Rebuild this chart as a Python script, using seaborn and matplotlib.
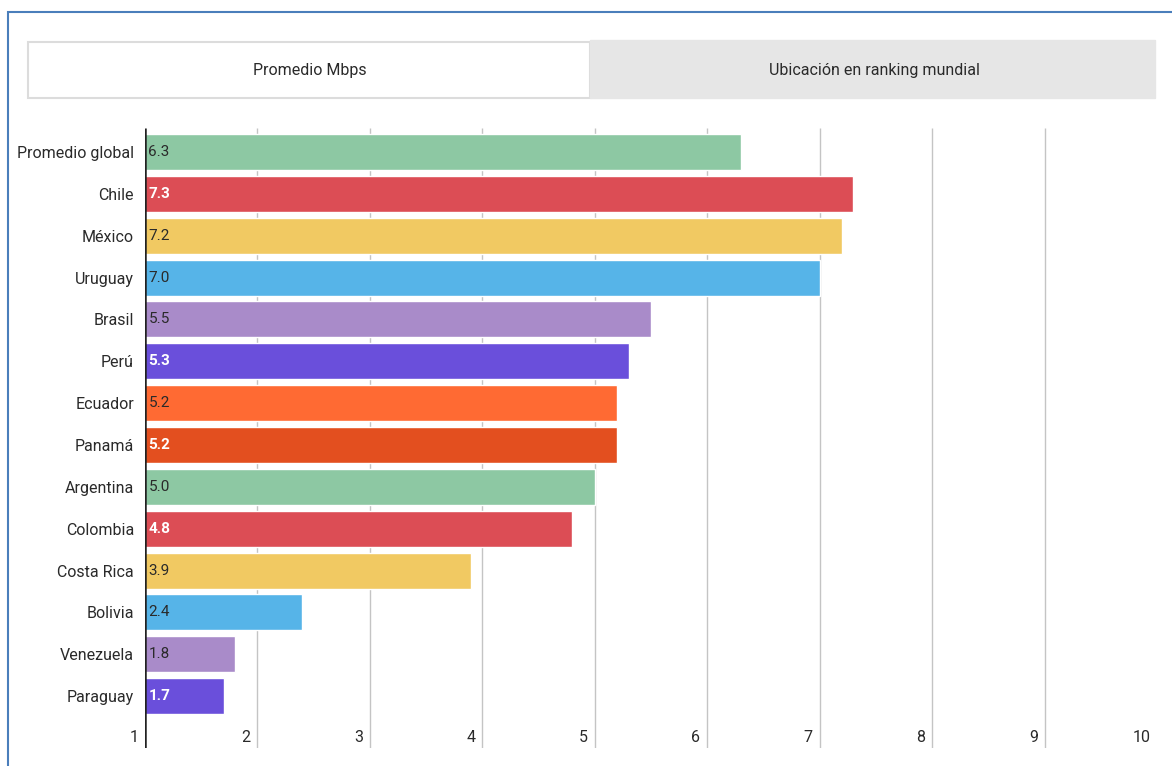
import matplotlib
matplotlib.use("Agg")
import matplotlib.pyplot as plt
import seaborn as sns
import pandas as pd
from matplotlib.patches import Rectangle

categories = ["Promedio global", "Chile", "México", "Uruguay", "Brasil", "Perú",
              "Ecuador", "Panamá", "Argentina", "Colombia", "Costa Rica",
              "Bolivia", "Venezuela", "Paraguay"]
values = [6.3, 7.3, 7.2, 7.0, 5.5, 5.3, 5.2, 5.2, 5.0, 4.8, 3.9, 2.4, 1.8, 1.7]
bar_colors = ["#8dc8a3", "#dc4d55", "#f1c962", "#56b4e8", "#a98bc9", "#6a4fdb",
              "#ff6a33", "#e34f1f", "#8dc8a3", "#dc4d55", "#f1c962", "#56b4e8",
              "#a98bc9", "#6a4fdb"]
white_label = [False, True, False, False, False, True, False, True,
               False, True, False, False, False, True]
x_ticks = [1, 2, 3, 4, 5, 6, 7, 8, 9, 10]
tabs = ["Promedio Mbps", "Ubicación en ranking mundial"]

sns.set_theme(style="white")
plt.rcParams["font.family"] = ["Roboto", "DejaVu Sans"]

df = pd.DataFrame({"pais": categories, "mbps": values})

fig = plt.figure(figsize=(11.72, 7.66), dpi=100)
fig.patch.set_facecolor("white")
ax = fig.add_axes([145 / 1172, 18 / 766, (1157 - 145) / 1172, (748 - 18) / 766])

sns.barplot(data=df, y="pais", x="mbps", hue="pais", palette=bar_colors,
            order=categories, hue_order=categories, legend=False,
            width=0.86, saturation=1, ax=ax, zorder=2)

step_px = 41.85
y_top = -0.573
y_bot = 13 + 1.24
ax.set_xlim(1, 10)
ax.set_ylim(y_bot, y_top - (128 - 18) / step_px)

ax.set_xlabel("")
ax.set_ylabel("")
for s in ["top", "right", "bottom", "left"]:
    ax.spines[s].set_visible(False)

# axis line and vertical grid lines spanning the plot region
ax.vlines(1, y_bot, y_top, color="#222222", lw=1.8, zorder=4)
ax.vlines(x_ticks[1:-1], y_bot, y_top, color="#c4c4c4", lw=1.0, zorder=1)

ax.set_xticks([])
ax.tick_params(axis="y", length=0, pad=8, labelsize=11.5, labelcolor="#2a2a2a")
ax.set_yticks(range(len(categories)))
ax.set_yticklabels(categories)

for t in x_ticks:
    ax.text(t - 0.06, 13 + 0.98, str(t), ha="right", va="center",
            fontsize=11.5, color="#2a2a2a")

for i, (v, w) in enumerate(zip(values, white_label)):
    ax.text(1.03, i, f"{v:.1f}", ha="left", va="center", fontsize=11,
            color="white" if w else "#2a2a2a",
            fontweight="bold" if w else "normal", zorder=5)

# tabs
fig.add_artist(Rectangle((28 / 1172, 1 - 98 / 766), (590 - 28) / 1172, 56 / 766,
                         transform=fig.transFigure, facecolor="white",
                         edgecolor="#dcdcdc", lw=1.5))
fig.add_artist(Rectangle((590 / 1172, 1 - 98 / 766), (1155 - 590) / 1172, 58 / 766,
                         transform=fig.transFigure, facecolor="#e6e6e6",
                         edgecolor="#e6e6e6", lw=1))
fig.text(310 / 1172, 1 - 70 / 766, tabs[0], ha="center", va="center",
         fontsize=11.5, color="#2a2a2a")
fig.text(874 / 1172, 1 - 70 / 766, tabs[1], ha="center", va="center",
         fontsize=11.5, color="#2a2a2a")

# blue frame
fig.add_artist(Rectangle((8 / 1172, -0.05), 1.1, 1 - 12 / 766 + 0.05,
                         transform=fig.transFigure, facecolor="none",
                         edgecolor="#4a7ebb", lw=1.5))

fig.savefig("out.png", dpi=100)
